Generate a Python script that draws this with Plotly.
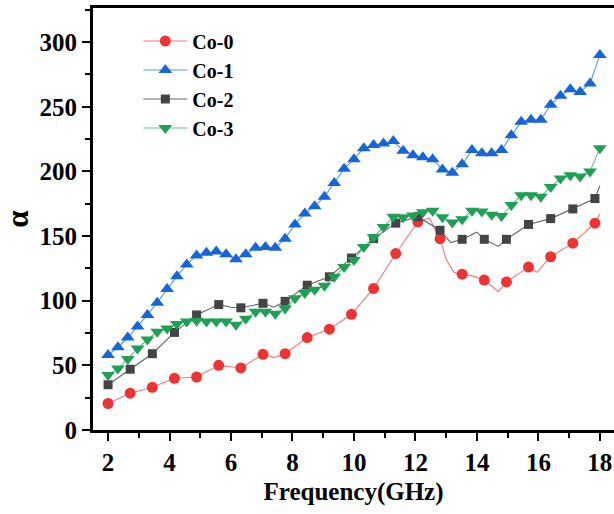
import plotly.graph_objects as go

# ---- data ----
freq_a = [2 + 0.72 * k for k in range(23)]   # Co-0 / Co-2 marker frequencies
freq_b = [2 + 0.32 * k for k in range(51)]   # Co-1 / Co-3 marker frequencies

co0 = [20.5, 28.5, 33, 40, 41, 50, 48, 58.5, 59, 71.5, 78, 89.5, 109.5, 136.5,
       161, 148, 120.5, 116, 114.5, 126, 134, 144.5, 160]
co0_line_x = [7.4, 12.45, 13.0, 13.25, 13.88, 14.7, 15.95, 18.0]
co0_line_y = [56, 164, 132, 122, 119, 107, 122, 167]

co2 = [35, 47, 59, 75.5, 89, 97, 94.5, 98, 99.5, 112, 118.5, 133, 148, 160,
       165, 154.5, 147.5, 147.5, 147.5, 159, 163.5, 171, 179]
co2_line_x = [6.0, 7.4, 13.15, 14.0, 14.7, 18.0]
co2_line_y = [95, 95, 145, 153, 142, 189]

co1 = [58, 64, 71.5, 80, 89, 98.5, 109, 119, 128, 135, 137, 138, 136, 132, 136,
       141, 141.5, 141, 148, 159, 167.5, 173, 180.5, 191, 202, 209.5, 218, 220.5,
       221.5, 223.5, 216, 212.5, 211, 209.5, 201.5, 199, 205.5, 216.5, 214, 214,
       216.5, 228, 238.5, 240, 240, 251.5, 258.5, 263.5, 261.5, 268, 290]

co3 = [42.5, 47.5, 55, 63, 70, 76, 78.5, 82, 84, 84.5, 84, 84, 84, 81.5, 86,
       91.5, 91.5, 90, 94, 102, 106, 108.5, 111.5, 118.5, 126, 131.5, 141.5, 149,
       157, 165, 164.5, 166, 168.5, 169.5, 164.5, 160.5, 163, 169.5, 169, 166.5,
       165.5, 174, 181.5, 181.5, 180.5, 188, 194.5, 197, 196, 200, 218]

names = ["Co-0", "Co-1", "Co-2", "Co-3"]

FONT = "Liberation Serif"


def merged(xm, ym, xe, ye):
    pts = sorted(list(zip(xm, ym)) + list(zip(xe, ye)))
    return [p[0] for p in pts], [p[1] for p in pts]


series = [
    dict(name="Co-0", xm=freq_a, ym=co0, xl=co0_line_x, yl=co0_line_y,
         mc="#ee3333", lc="#f47878", sym="circle", ms=11),
    dict(name="Co-1", xm=freq_b, ym=co1, xl=[], yl=[],
         mc="#1766d8", lc="#5b97e8", sym="triangle-up", ms=12),
    dict(name="Co-2", xm=freq_a, ym=co2, xl=co2_line_x, yl=co2_line_y,
         mc="#444444", lc="#666666", sym="square", ms=9),
    dict(name="Co-3", xm=freq_b, ym=co3, xl=[], yl=[],
         mc="#1fa055", lc="#5cc488", sym="triangle-down", ms=12),
]

fig = go.Figure()
for s in series:
    lx, ly = merged(s["xm"], s["ym"], s["xl"], s["yl"])
    fig.add_trace(go.Scatter(x=lx, y=ly, mode="lines",
                             line=dict(color=s["lc"], width=1.1),
                             showlegend=False, hoverinfo="skip"))
    fig.add_trace(go.Scatter(x=s["xm"], y=s["ym"], mode="markers",
                             marker=dict(color=s["mc"], symbol=s["sym"], size=s["ms"],
                                         line=dict(width=0)),
                             showlegend=False))
for s in series:
    fig.add_trace(go.Scatter(x=[None], y=[None], mode="lines+markers", name=s["name"],
                             line=dict(color=s["lc"], width=1.1),
                             marker=dict(color=s["mc"], symbol=s["sym"], size=s["ms"],
                                         line=dict(width=0))))

axis_common = dict(
    showgrid=False, zeroline=False, showline=True, linecolor="black", linewidth=3,
    ticks="outside", ticklen=8, tickwidth=2, tickcolor="black",
    tickfont=dict(family=FONT, size=25, color="black", weight="bold"),
)

fig.update_layout(
    width=614, height=514,
    margin=dict(l=93, r=0, t=8, b=84),
    paper_bgcolor="white", plot_bgcolor="white",
    font=dict(family=FONT, color="black"),
    xaxis=dict(range=[1.51, 18.46], dtick=2, tick0=0, mirror=True,
               ticklabelstandoff=0,
               minor=dict(ticks="outside", ticklen=5, tickwidth=2, dtick=1, tick0=0,
                          tickcolor="black"),
               title=dict(text="Frequency(GHz)", standoff=8,
                          font=dict(family=FONT, size=25, color="black", weight="bold")),
               **axis_common),
    yaxis=dict(range=[0, 326.4], dtick=50, tick0=0,
               minor=dict(ticks="outside", ticklen=5, tickwidth=2, dtick=25, tick0=0,
                          tickcolor="black"),
               title=dict(text="α", standoff=10,
                          font=dict(family=FONT, size=31, color="black", weight="bold")),
               **axis_common),
    legend=dict(x=0.087, y=0.968, xanchor="left", yanchor="top",
                bgcolor="rgba(0,0,0,0)", itemwidth=44,
                font=dict(family=FONT, size=20, color="black", weight="bold"),
                tracegroupgap=0),
)

fig.write_html("out.html")
